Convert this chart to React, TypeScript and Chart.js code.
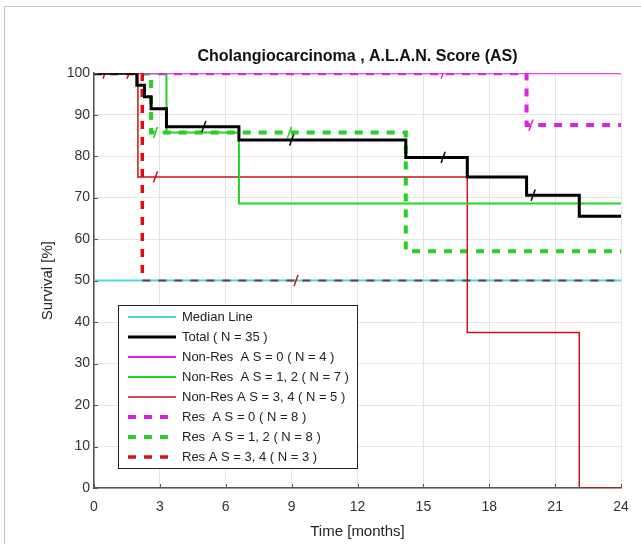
import React, { useEffect, useRef } from "react";
import { Chart, registerables } from "chart.js";

Chart.register(...registerables);

const FONT = "'Liberation Sans', Arial, sans-serif";

// ---- data (months, survival %) ----
const medianTimes = [0, 24];
const medianVals = [50, 50];

const totalTimes = [0, 1.95, 2.3, 2.6, 3.3, 6.6, 14.2, 17.0, 19.7, 22.1, 24];
const totalVals = [100, 97.1, 94.3, 91.4, 87.1, 83.9, 79.7, 75.0, 70.6, 65.5, 65.5];

const nonRes0Times = [0, 24];
const nonRes0Vals = [100, 100];

const nonRes12Times = [0, 3.3, 6.6, 24];
const nonRes12Vals = [100, 85.7, 68.6, 68.6];

const nonRes34Times = [0, 2.0, 17.0, 22.1, 24];
const nonRes34Vals = [100, 75, 37.5, 0, 0];

const res0Times = [0, 19.7, 24];
const res0Vals = [100, 87.5, 87.5];

const res12Times = [0, 2.6, 14.2, 24];
const res12Vals = [100, 85.7, 57.1, 57.1];

const res34Times = [0, 2.2, 24];
const res34Vals = [100, 50, 50];

// censor marks
const totalCensT = [5.0, 9.0, 15.9, 20.0];
const totalCensV = [87.1, 83.9, 79.7, 70.6];
const nonRes0CensT = [15.9];
const nonRes0CensV = [100];
const nonRes34CensT = [0.5, 1.6, 2.8];
const nonRes34CensV = [100, 100, 75];
const res0CensT = [19.9];
const res0CensV = [87.5];
const res12CensT = [2.8, 8.9];
const res12CensV = [85.7, 85.7];
const res34CensT = [9.2];
const res34CensV = [50];

const legendLabels = [
  "Median Line",
  "Total ( N = 35 )",
  "Non-Res  A S = 0 ( N = 4 )",
  "Non-Res  A S = 1, 2 ( N = 7 )",
  "Non-Res A S = 3, 4 ( N = 5 )",
  "Res  A S = 0 ( N = 8 )",
  "Res  A S = 1, 2 ( N = 8 )",
  "Res A S = 3, 4 ( N = 3 )",
];

const xTicks = [0, 3, 6, 9, 12, 15, 18, 21, 24];
const yTicks = [0, 10, 20, 30, 40, 50, 60, 70, 80, 90, 100];

const C_CYAN = "#4fd6e2";
const C_BLACK = "#000000";
const C_MAG = "#e020e0";
const C_GREEN = "#1fd51f";
const C_DRED = "#c81414";
const C_RED = "#e00c0c";

const pts = (t: number[], v: number[]) => t.map((x, i) => ({ x, y: v[i] }));

type Style = { color: string; width: number; dash: number[] };
const legendStyles: Style[] = [
  { color: C_CYAN, width: 2, dash: [] },
  { color: C_BLACK, width: 3, dash: [] },
  { color: C_MAG, width: 2, dash: [] },
  { color: C_GREEN, width: 2, dash: [] },
  { color: C_DRED, width: 1.5, dash: [] },
  { color: C_MAG, width: 4, dash: [8, 8] },
  { color: C_GREEN, width: 4, dash: [8, 8] },
  { color: C_RED, width: 3.5, dash: [8, 8] },
];

const curve = (label: string, t: number[], v: number[], s: Style, order: number, extra: any = {}) => ({
  label,
  data: pts(t, v),
  borderColor: s.color,
  borderWidth: s.width,
  borderDash: s.dash,
  stepped: "before",
  pointRadius: 0,
  fill: false,
  order,
  ...extra,
});

const cens = (t: number[], v: number[], color: string) => ({
  label: "_cens",
  data: pts(t, v),
  showLine: false,
  pointStyle: "line",
  rotation: -70,
  pointRadius: 6,
  pointBorderWidth: 1.5,
  borderColor: color,
  pointBorderColor: color,
  backgroundColor: color,
  order: 0,
});

const decoPlugin = {
  id: "deco",
  beforeDraw(chart: any) {
    const ctx = chart.ctx;
    ctx.save();
    ctx.strokeStyle = "#c4c4c4";
    ctx.lineWidth = 1;
    ctx.beginPath();
    ctx.moveTo(4.5, 700);
    ctx.lineTo(4.5, 6.5);
    ctx.lineTo(700, 6.5);
    ctx.stroke();
    ctx.restore();
  },
  afterDatasetsDraw(chart: any) {
    const ctx = chart.ctx;
    const xs = chart.scales.x;
    const ys = chart.scales.y;
    const a = chart.chartArea;
    ctx.save();
    ctx.strokeStyle = "#555";
    ctx.lineWidth = 1;
    ctx.beginPath();
    xTicks.forEach((t) => {
      const px = Math.round(xs.getPixelForValue(t)) + 0.5;
      ctx.moveTo(px, a.bottom);
      ctx.lineTo(px, a.bottom - 4);
    });
    yTicks.forEach((t) => {
      const py = Math.round(ys.getPixelForValue(t)) + 0.5;
      ctx.moveTo(a.left, py);
      ctx.lineTo(a.left + 4, py);
    });
    ctx.stroke();

    // legend box
    ctx.font = `13px ${FONT}`;
    const textX = 182;
    let maxW = 0;
    legendLabels.forEach((l) => (maxW = Math.max(maxW, ctx.measureText(l).width)));
    const left = 118.5;
    const top = 305.5;
    const right = Math.round(textX + maxW + 8) + 0.5;
    const bottom = 468.5;
    ctx.fillStyle = "#ffffff";
    ctx.fillRect(left, top, right - left, bottom - top);
    ctx.strokeStyle = "#222";
    ctx.lineWidth = 1;
    ctx.strokeRect(left, top, right - left, bottom - top);
    legendLabels.forEach((l, i) => {
      const y = 317 + i * 20;
      const s = legendStyles[i];
      ctx.beginPath();
      ctx.strokeStyle = s.color;
      ctx.lineWidth = s.width;
      ctx.setLineDash(s.dash);
      ctx.moveTo(128, y);
      ctx.lineTo(176, y);
      ctx.stroke();
      ctx.setLineDash([]);
      ctx.fillStyle = "#222";
      ctx.textBaseline = "middle";
      ctx.textAlign = "left";
      ctx.fillText(l, textX, y + 0.5);
    });
    ctx.restore();
  },
};

export default function App() {
  const ref = useRef<HTMLCanvasElement | null>(null);
  useEffect(() => {
    document.body.style.margin = "0";
    if (!ref.current) return;
    const datasets: any[] = [
      curve(legendLabels[0], medianTimes, medianVals, legendStyles[0], 6),
      curve(legendLabels[1], totalTimes, totalVals, legendStyles[1], 0),
      curve(legendLabels[2], nonRes0Times, nonRes0Vals, legendStyles[2], 2),
      curve(legendLabels[3], nonRes12Times, nonRes12Vals, legendStyles[3], 2),
      curve(legendLabels[4], nonRes34Times, nonRes34Vals, legendStyles[4], 2),
      curve(legendLabels[5], res0Times, res0Vals, legendStyles[5], 4),
      curve(legendLabels[6], res12Times, res12Vals, legendStyles[6], 3),
      curve(legendLabels[7], res34Times, res34Vals, legendStyles[7], 1, {
        segment: {
          borderColor: (c: any) =>
            c.p0.parsed.y === 50 && c.p1.parsed.y === 50 ? "#4a4a4a" : C_RED,
          borderWidth: (c: any) =>
            c.p0.parsed.y === 50 && c.p1.parsed.y === 50 ? 2 : 3.5,
        },
      }),
      cens(totalCensT, totalCensV, C_BLACK),
      cens(nonRes0CensT, nonRes0CensV, C_MAG),
      cens(nonRes34CensT, nonRes34CensV, C_DRED),
      cens(res0CensT, res0CensV, C_MAG),
      cens(res12CensT, res12CensV, C_GREEN),
      cens(res34CensT, res34CensV, C_DRED),
    ];
    const chart = new Chart(ref.current, {
      type: "line",
      data: { datasets },
      plugins: [decoPlugin],
      options: {
        animation: false,
        responsive: false,
        devicePixelRatio: 1,
        layout: { padding: { left: 0, right: 20, top: 0, bottom: 0 } },
        plugins: {
          legend: { display: false },
          tooltip: { enabled: false },
          title: {
            display: true,
            text: "Cholangiocarcinoma , A.L.A.N. Score (AS)",
            fullSize: false,
            color: "#111",
            font: { family: FONT, size: 16, weight: "bold" },
            padding: { top: 47, bottom: 7 },
          },
        },
        scales: {
          x: {
            type: "linear",
            min: 0,
            max: 24,
            afterBuildTicks: (s: any) => {
              s.ticks = xTicks.map((v) => ({ value: v }));
            },
            ticks: { color: "#333", font: { family: FONT, size: 14 }, padding: 11 },
            grid: { color: "#e4e4e4", drawTicks: false },
            border: { color: "#555", width: 1.5 },
            title: {
              display: true,
              text: "Time [months]",
              color: "#222",
              font: { family: FONT, size: 15 },
              padding: { top: 0, bottom: 3 },
            },
            afterFit: (s: any) => {
              s.height = 56;
            },
          },
          y: {
            type: "linear",
            min: 0,
            max: 100,
            afterBuildTicks: (s: any) => {
              s.ticks = yTicks.map((v) => ({ value: v }));
            },
            ticks: { color: "#333", font: { family: FONT, size: 14 }, padding: 4 },
            grid: { color: "#e4e4e4", drawTicks: false },
            border: { color: "#555", width: 1.5 },
            title: {
              display: true,
              text: "Survival [%]",
              color: "#222",
              font: { family: FONT, size: 15 },
              padding: { top: 39, bottom: 0 },
            },
            afterFit: (s: any) => {
              s.width = 94;
            },
          },
        },
      } as any,
    });
    return () => chart.destroy();
  }, []);
  return (
    <canvas
      ref={ref}
      width={641}
      height={544}
      style={{ display: "block", width: 641, height: 544 }}
    />
  );
}
